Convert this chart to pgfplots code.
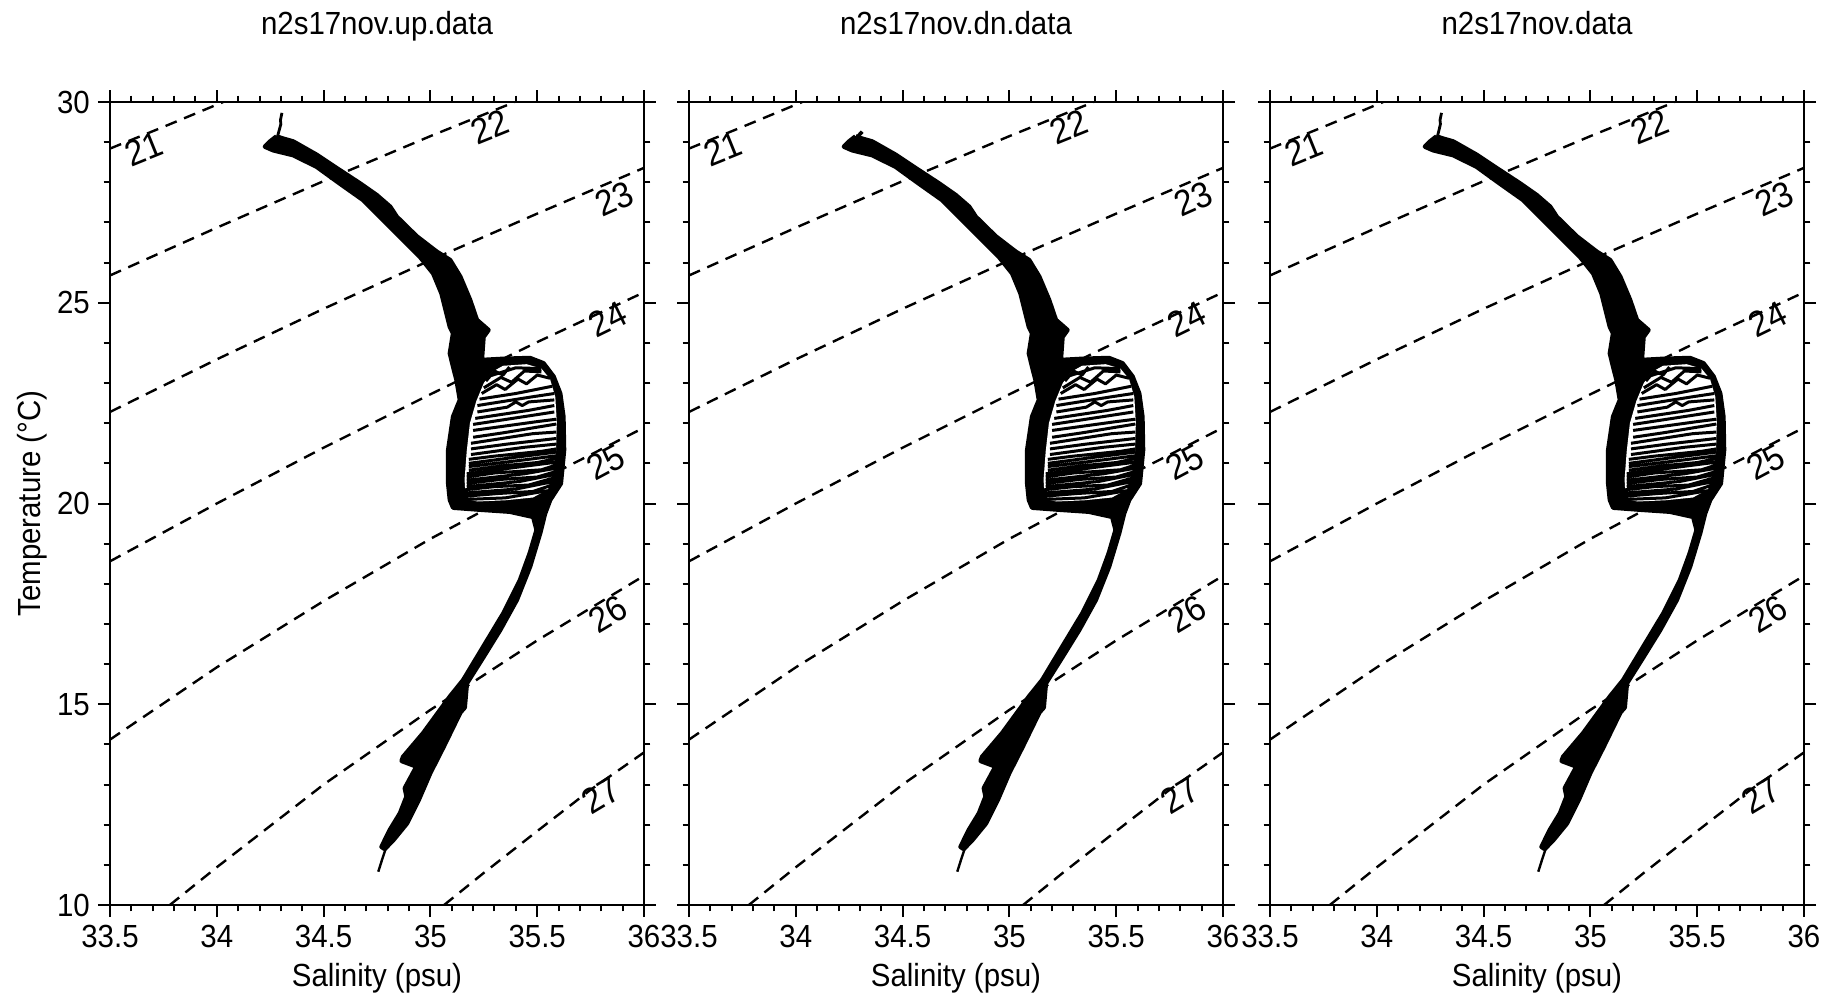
\documentclass[border=0pt]{standalone}
\usepackage{fontspec}
\setmainfont{Liberation Sans}[FakeStretch=0.92]
\usepackage{pgfplots}
\pgfplotsset{compat=1.18}
\usepackage{pgfplotstable}

% sigma-t isopycnals (S, T)
\pgfplotstableread{
S T
33.5 28.84
33.75 29.38
34.03 30.0
}\sigTwentyOne
\pgfplotstableread{
S T
33.5 25.68
34.0 26.87
34.5 28.03
35.0 29.15
35.395 30.0
}\sigTwentyTwo
\pgfplotstableread{
S T
33.5 22.28
34.0 23.59
34.5 24.85
35.0 26.06
35.5 27.22
36.0 28.36
}\sigTwentyThree
\pgfplotstableread{
S T
33.5 18.56
34.0 20.00
34.5 21.39
35.0 22.72
35.5 24.02
36.0 25.26
}\sigTwentyFour
\pgfplotstableread{
S T
33.5 14.12
34.0 15.92
34.5 17.57
35.0 19.12
35.5 20.54
36.0 21.89
}\sigTwentyFive
\pgfplotstableread{
S T
33.78 10.0
34.0 10.94
34.5 13.00
35.0 14.86
35.5 16.59
36.0 18.20
}\sigTwentySix
\pgfplotstableread{
S T
35.064 10.0
35.25 10.80
35.5 11.84
35.75 12.87
36.0 13.80
}\sigTwentySeven

% outline of the bundle of T-S profiles
\pgfplotstableread{
S T
34.280 29.14
34.304 29.095
34.358 29.012
34.468 28.68
34.561 28.35
34.670 27.97
34.748 27.68
34.811 27.39
34.842 27.14
34.936 26.65
35.029 26.27
35.092 26.06
35.139 25.65
35.185 25.07
35.217 24.57
35.271 24.32
35.248 24.15
35.240 23.57
35.342 23.60
35.466 23.62
35.529 23.49
35.576 23.16
35.607 22.74
35.622 22.16
35.625 21.33
35.610 20.50
35.560 20.09
35.536 19.75
35.513 19.26
35.466 18.43
35.404 17.60
35.326 16.85
35.248 16.18
35.170 15.52
35.160 14.92
35.140 14.80
35.061 13.94
34.998 13.28
34.944 12.61
34.889 12.03
34.826 11.62
34.795 11.45
34.786 11.40
34.772 11.45
34.811 11.87
34.858 12.28
34.889 12.70
34.881 12.91
34.936 13.45
34.866 13.59
34.873 13.69
34.967 14.28
35.092 15.19
35.154 15.60
35.248 16.43
35.342 17.26
35.420 18.09
35.466 18.76
35.498 19.34
35.482 19.67
35.372 19.80
35.232 19.85
35.107 19.90
35.092 20.09
35.084 20.50
35.084 21.33
35.107 22.16
35.139 22.58
35.123 23.08
35.107 23.41
35.092 23.74
35.107 24.24
35.092 24.40
35.076 24.74
35.053 25.23
35.014 25.73
34.951 26.15
34.873 26.56
34.780 27.06
34.686 27.56
34.577 27.97
34.468 28.39
34.358 28.68
34.265 28.80
34.226 28.89
34.249 29.01
34.280 29.14
}\bundle

% open part inside the warm-water bulge
\pgfplotstableread{
S T
35.250 23.00
35.290 23.28
35.340 23.43
35.450 23.47
35.520 23.36
35.560 23.10
35.585 22.65
35.592 22.00
35.588 21.30
35.575 20.75
35.550 20.35
35.480 20.15
35.350 20.08
35.220 20.05
35.165 20.12
35.160 20.60
35.170 21.30
35.185 22.00
35.215 22.55
35.250 23.00
}\hole

% single profiles crossing the bulge
\pgfplotstableread{
S T
35.16 20.10
35.35 20.14
35.55 20.32
nan nan
35.16 20.18
35.32 20.25
35.48 20.30
35.57 20.46
nan nan
35.16 20.26
35.40 20.36
35.58 20.55
nan nan
35.16 20.34
35.30 20.42
35.46 20.46
35.58 20.64
nan nan
35.17 20.42
35.42 20.55
35.58 20.72
nan nan
35.17 20.50
35.33 20.60
35.50 20.66
35.59 20.80
nan nan
35.17 20.58
35.44 20.74
35.59 20.88
nan nan
35.17 20.66
35.30 20.76
35.52 20.84
35.59 20.96
nan nan
35.17 20.74
35.40 20.90
35.59 21.03
nan nan
35.18 20.83
35.34 20.94
35.50 21.02
35.59 21.12
nan nan
35.18 20.92
35.46 21.10
35.59 21.19
nan nan
35.18 21.00
35.38 21.14
35.59 21.28
nan nan
35.18 21.10
35.30 21.18
35.52 21.30
35.59 21.36
nan nan
35.19 21.22
35.44 21.40
35.59 21.48
nan nan
35.19 21.36
35.36 21.48
35.59 21.62
nan nan
35.19 21.50
35.48 21.74
35.59 21.78
nan nan
35.20 21.65
35.34 21.76
35.59 21.98
nan nan
35.20 21.82
35.50 22.04
35.59 22.10
nan nan
35.20 21.97
35.36 22.10
35.58 22.28
nan nan
35.21 22.12
35.46 22.32
35.58 22.44
nan nan
35.22 22.28
35.36 22.40
35.40 22.53
35.43 22.44
35.46 22.53
35.58 22.58
nan nan
35.22 22.44
35.48 22.66
35.58 22.74
nan nan
35.23 22.60
35.40 22.74
35.57 22.92
nan nan
35.24 22.74
35.31 22.96
35.35 22.84
35.41 23.10
35.45 22.98
35.50 23.20
35.56 23.12
nan nan
35.25 22.88
35.33 23.14
35.38 23.02
35.44 23.30
35.52 23.28
nan nan
35.28 23.18
35.40 23.38
35.52 23.36
nan nan
35.26 23.05
35.30 23.30
35.34 23.20
35.37 23.40
}\profiles

\pgfplotsset{
  tsaxis/.style={
    scale only axis, width=133.5pt, height=200.75pt,
    anchor=south west,
    xmin=33.5, xmax=36, ymin=10, ymax=30,
    xtick={33.5,34,34.5,35,35.5,36}, ytick={10,15,20,25,30},
    minor x tick num=4, minor y tick num=4,
    tick align=outside, tick pos=both,
    major tick length=3pt, minor tick length=1.6pt,
    axis line style={line width=0.6pt},
    every tick/.style={black, line width=0.5pt},
    /pgf/number format/assume math mode=true,
    tick label style={font=\fontsize{8}{9}\selectfont},
    xticklabel style={yshift=1.5pt},
    yticklabel style={xshift=1.5pt},
    label style={font=\fontsize{8}{9}\selectfont},
    title style={font=\fontsize{8}{9}\selectfont, at={(0.5,1)}, anchor=base, yshift=11pt},
    xlabel={Salinity (psu)},
    xlabel style={at={(axis description cs:0.5,0)}, anchor=center, yshift=-18.2pt},
  },
}
\tikzset{
  iso/.style={black, line width=0.6pt, dash pattern=on 3pt off 2pt},
  isolab/.style={font=\fontsize{9}{10}\selectfont, inner sep=0pt},
}

\newcommand{\tsbody}{%
  \addplot[iso] table {\sigTwentyOne};
  \addplot[iso] table {\sigTwentyTwo};
  \addplot[iso] table {\sigTwentyThree};
  \addplot[iso] table {\sigTwentyFour};
  \addplot[iso] table {\sigTwentyFive};
  \addplot[iso] table {\sigTwentySix};
  \addplot[iso] table {\sigTwentySeven};
  \node[isolab, rotate=22] at (axis cs:33.66,28.84) {21};
  \node[isolab, rotate=22] at (axis cs:35.28,29.39) {22};
  \node[isolab, rotate=24] at (axis cs:35.86,27.59) {23};
  \node[isolab, rotate=26] at (axis cs:35.83,24.59) {24};
  \node[isolab, rotate=28] at (axis cs:35.82,21.03) {25};
  \node[isolab, rotate=31] at (axis cs:35.83,17.25) {26};
  \node[isolab, rotate=31] at (axis cs:35.80,12.73) {27};
  \addplot[fill=black, draw=black, line width=1.2pt, line join=round] table {\bundle};
  \addplot[fill=white, draw=none] table {\hole};
  \addplot[black, line width=0.75pt, line join=round, unbounded coords=jump] table {\profiles};
  \addplot[black, line width=0.6pt] coordinates {(34.792,11.42) (34.775,11.15) (34.756,10.83)};
}

\begin{document}
\begin{tikzpicture}
\path[use as bounding box] (-27.5pt,-23.5pt) rectangle (431pt,226.25pt);

\begin{axis}[tsaxis, at={(0pt,0pt)},
  title={n2s17nov.up.data},
  ylabel={Temperature (°C)},
  ylabel style={at={(axis description cs:-0.146,0.5)}, anchor=center}]
  \tsbody
  \addplot[black, line width=0.7pt] coordinates {(34.282,29.10) (34.300,29.45) (34.298,29.55) (34.305,29.73)};
\end{axis}

\begin{axis}[tsaxis, at={(144.75pt,0pt)}, yticklabels={},
  title={n2s17nov.dn.data}]
  \tsbody
  \addplot[black, line width=0.9pt] coordinates {(34.285,29.10) (34.300,29.20) (34.311,29.26)};
\end{axis}

\begin{axis}[tsaxis, at={(290pt,0pt)}, yticklabels={},
  title={n2s17nov.data}]
  \tsbody
  \addplot[black, line width=0.7pt] coordinates {(34.282,29.10) (34.298,29.45) (34.296,29.55) (34.303,29.73)};
\end{axis}
\end{tikzpicture}
\end{document}
